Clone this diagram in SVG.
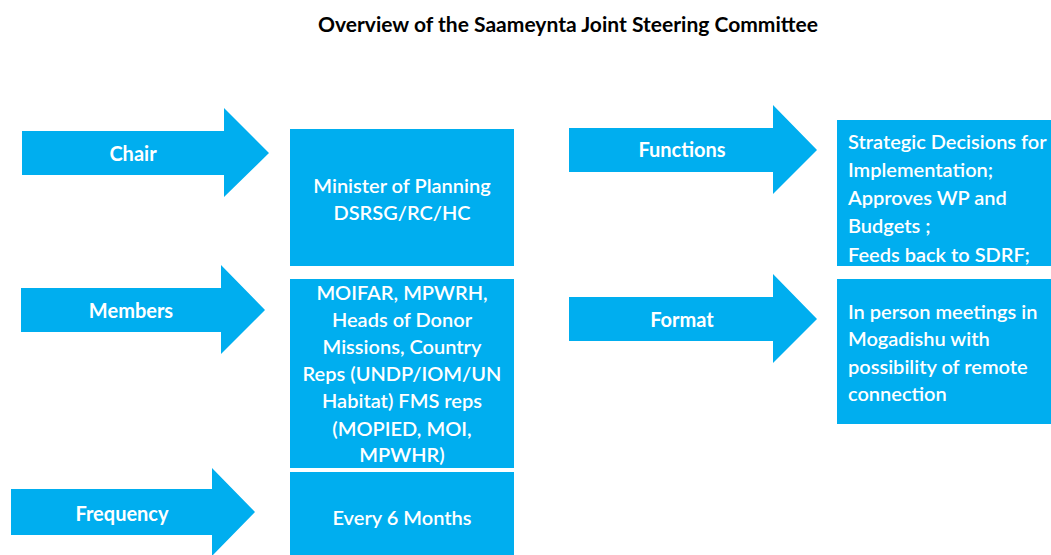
<svg xmlns="http://www.w3.org/2000/svg" width="1051" height="555" viewBox="0 0 1051 555">
<style>
.arrow{fill:#00AEEF}
.box{fill:#00AEEF}
.lbl{font-family:Lato,"Liberation Sans",sans-serif;font-weight:700;font-size:20px;fill:#fff;text-anchor:middle}
.txt{font-family:Lato,"Liberation Sans",sans-serif;font-weight:600;font-size:20px;fill:#fff}
.c{text-anchor:middle}
.title{font-family:Lato,"Liberation Sans",sans-serif;font-weight:700;font-size:20px;fill:#000;text-anchor:middle}
</style>
<rect width="1051" height="555" fill="#fff"/>
<text class="title" x="568" y="32" textLength="500" lengthAdjust="spacingAndGlyphs">Overview of the Saameynta Joint Steering Committee</text>
<g id="connectors">
<polygon id="arrow-chair" class="arrow" points="22,131 224,131 224,108 269,153 224,197 224,175 22,175"/>
<polygon id="arrow-members" class="arrow" points="21,288 221,288 221,265 265,310 221,354 221,332 21,332"/>
<polygon id="arrow-frequency" class="arrow" points="11,489 212,489 212,468 255,512 212,556 212,535 11,535"/>
<polygon id="arrow-functions" class="arrow" points="569,128 773,128 773,105 817,150 773,194 773,172 569,172"/>
<polygon id="arrow-format" class="arrow" points="569,297 773,297 773,274 817,319 773,363 773,341 569,341"/>
<text class="lbl" x="133" y="161">Chair</text>
<text class="lbl" x="131" y="318">Members</text>
<text class="lbl" x="122" y="521">Frequency</text>
<text class="lbl" x="682" y="157">Functions</text>
<text class="lbl" x="682" y="327">Format</text>
</g>
<g id="chair-box">
<rect class="box" x="290" y="129" width="224" height="137"/>
<text class="txt c" x="402" y="193">Minister of Planning</text>
<text class="txt c" x="402" y="220">DSRSG/RC/HC</text>
</g>
<g id="members-box">
<rect class="box" x="290" y="279" width="224" height="189"/>
<text class="txt c" x="402" y="300">MOIFAR, MPWRH,</text>
<text class="txt c" x="402" y="327">Heads of Donor</text>
<text class="txt c" x="402" y="354">Missions, Country</text>
<text class="txt c" x="402" y="381">Reps (UNDP/IOM/UN</text>
<text class="txt c" x="402" y="408">Habitat) FMS reps</text>
<text class="txt c" x="402" y="436">(MOPIED, MOI,</text>
<text class="txt c" x="402" y="462">MPWHR)</text>
</g>
<g id="frequency-box">
<rect class="box" x="290" y="472" width="224" height="90"/>
<text class="txt c" x="402" y="525">Every 6 Months</text>
</g>
<g id="functions-box">
<rect class="box" x="837" y="120" width="220" height="146"/>
<text class="txt" x="848" y="149">Strategic Decisions for</text>
<text class="txt" x="848" y="177">Implementation;</text>
<text class="txt" x="848" y="205">Approves WP and</text>
<text class="txt" x="848" y="233">Budgets ;</text>
<text class="txt" x="848" y="262">Feeds back to SDRF;</text>
</g>
<g id="format-box">
<rect class="box" x="837" y="279" width="220" height="145"/>
<text class="txt" x="848" y="319">In person meetings in</text>
<text class="txt" x="848" y="346">Mogadishu with</text>
<text class="txt" x="848" y="374">possibility of remote</text>
<text class="txt" x="848" y="401">connection</text>
</g>
</svg>
